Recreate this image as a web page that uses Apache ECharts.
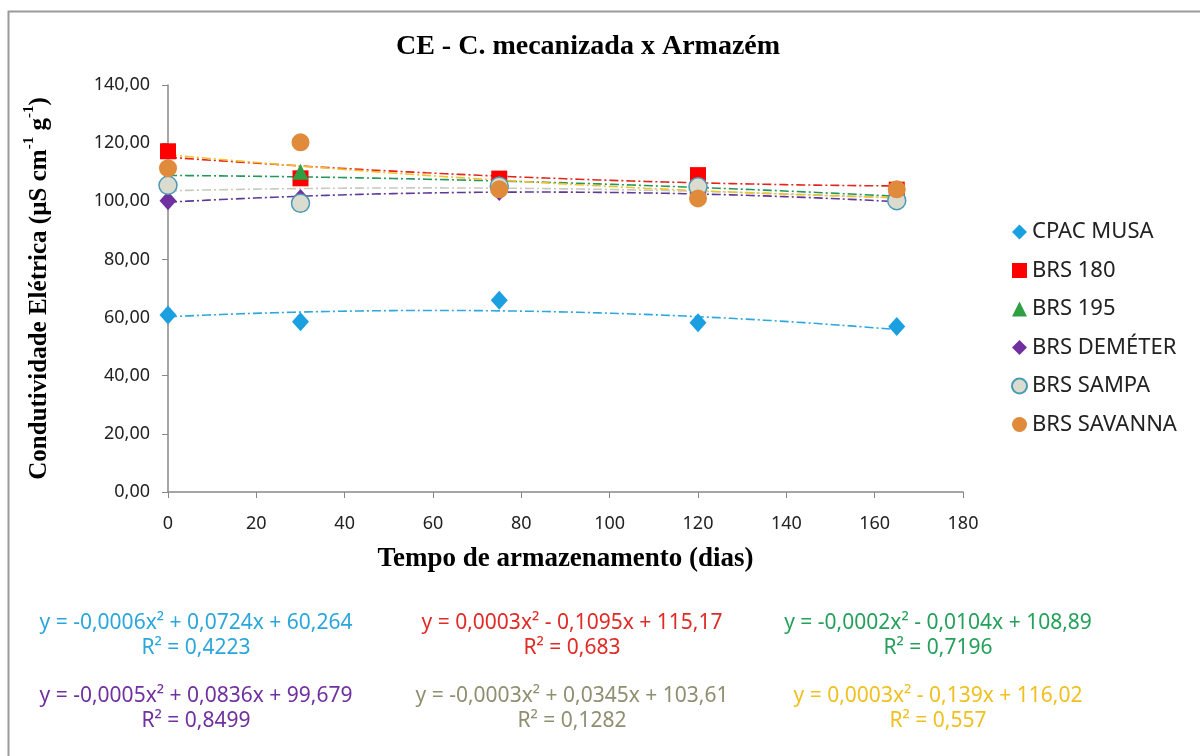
<!DOCTYPE html>
<html>
<head>
<meta charset="utf-8">
<script src="https://cdn.jsdelivr.net/npm/echarts@6/dist/echarts.min.js"></script>
<style>
html,body{margin:0;padding:0;background:#fff;}
#c{width:1200px;height:756px;}
</style>
</head>
<body>
<div id="c"></div>
<script>
// ---- data ----
const days = [0, 30, 75, 120, 165];
const seriesNames = ['CPAC MUSA', 'BRS 180', 'BRS 195', 'BRS DEMÉTER', 'BRS SAMPA', 'BRS SAVANNA'];
const cpacMusa   = [60.9, 58.6, 66.0, 58.2, 56.9];
const brs180     = [117.2, 107.9, 107.8, 109.0, 104.0];
const brs195     = [108.6, 110.2, 106.2, 104.6, 102.0];
const brsDemeter = [100.2, 101.0, 103.4, 103.0, 100.4];
const brsSampa   = [105.5, 99.3, 105.2, 105.0, 100.2];
const brsSavanna = [111.4, 120.3, 104.1, 101.0, 104.1];
// trend coefficients [a, b, c] of y = a x^2 + b x + c (as printed on the chart)
const trendCoefs = [
  [-0.0006, 0.0724, 60.264],
  [0.0003, -0.1095, 115.17],
  [-0.0002, -0.0104, 108.89],
  [-0.0005, 0.0836, 99.679],
  [-0.0003, 0.0345, 103.61],
  [0.0003, -0.139, 116.02]
];
const equationTexts = [
  'y = -0,0006x² + 0,0724x + 60,264', 'y = 0,0003x² - 0,1095x + 115,17', 'y = -0,0002x² - 0,0104x + 108,89',
  'y = -0,0005x² + 0,0836x + 99,679', 'y = -0,0003x² + 0,0345x + 103,61', 'y = 0,0003x² - 0,139x + 116,02'
];
const r2Texts = ['R² = 0,4223', 'R² = 0,683', 'R² = 0,7196', 'R² = 0,8499', 'R² = 0,1282', 'R² = 0,557'];
const xTicks = [0, 20, 40, 60, 80, 100, 120, 140, 160, 180];
const yTicks = [0, 20, 40, 60, 80, 100, 120, 140];

const allData = [cpacMusa, brs180, brs195, brsDemeter, brsSampa, brsSavanna];
const markerColors = ['#1aa0e0', '#ff0000', '#2ea043', '#7030a0', '#d9dccf', '#e08a3c'];
const markerBorders = [null, null, null, null, '#4d9bb3', null];
const symbols = ['diamond', 'rect', 'triangle', 'diamond', 'circle', 'circle'];
const symbolSizes = [[17, 19], 16, 16, [17, 19], 18, 18];
const trendColors = ['#2aa8df', '#e3261c', '#23985a', '#5e3a96', '#c9c9c0', '#f2c12e'];
const textColors = ['#2ba6dc', '#e02a26', '#24a05a', '#7030a0', '#8f8f70', '#f0c020'];

const chart = echarts.init(document.getElementById('c'), null, {renderer: 'canvas'});

function trendData(coef) {
  const out = [];
  for (let x = 0; x <= 165; x += 1.5) {
    out.push([x, coef[0] * x * x + coef[1] * x + coef[2]]);
  }
  return out;
}

const series = [];
trendCoefs.forEach((c, i) => {
  series.push({
    type: 'line', name: 'trend' + i, data: trendData(c), showSymbol: false, smooth: false,
    silent: true, z: 1,
    lineStyle: {color: trendColors[i], width: 1.6, type: [9, 3, 2, 3]}
  });
});
allData.forEach((d, i) => {
  series.push({
    type: 'scatter', name: seriesNames[i], data: days.map((x, k) => [x, d[k]]),
    symbol: symbols[i], symbolSize: symbolSizes[i], z: 3,
    itemStyle: {color: markerColors[i], borderColor: markerBorders[i] || markerColors[i], borderWidth: markerBorders[i] ? 1.5 : 0, opacity: 1}
  });
});

const graphics = [
  {type: 'rect', left: 6, top: 9, shape: {width: 1300, height: 800}, style: {fill: 'none', stroke: '#9a9a9a', lineWidth: 2}, silent: true}
];
const colX = [196, 572, 938];
const rowY = [623, 696];
const eqFont = '21px "Noto Sans"';
for (let i = 0; i < 6; i++) {
  const cx = colX[i % 3], ry = rowY[Math.floor(i / 3)];
  graphics.push({type: 'text', x: cx, y: ry, style: {text: equationTexts[i], fill: textColors[i], font: eqFont, align: 'center', verticalAlign: 'middle', textAlign: 'center', textVerticalAlign: 'middle'}});
  graphics.push({type: 'text', x: cx, y: ry + 25, style: {text: r2Texts[i], fill: textColors[i], font: eqFont, align: 'center', verticalAlign: 'middle', textAlign: 'center', textVerticalAlign: 'middle'}});
}

chart.setOption({
  backgroundColor: '#ffffff',
  animation: false,
  title: {
    text: 'CE - C. mecanizada x Armazém', left: 583, top: 28, textAlign: 'center',
    textStyle: {fontFamily: '"Liberation Serif"', fontWeight: 'bold', fontSize: 28, color: '#000'}
  },
  grid: {left: 168, right: 237, top: 85, bottom: 264},
  legend: {
    orient: 'vertical', left: 1006, top: 216, itemGap: 16.5, itemWidth: 15, itemHeight: 15,
    data: seriesNames.map((n, i) => ({name: n, icon: symbols[i]})),
    textStyle: {fontFamily: '"Noto Sans"', fontSize: 22, color: '#222'}
  },
  xAxis: {
    type: 'value', min: 0, max: 180, interval: 20,
    name: 'Tempo de armazenamento (dias)', nameLocation: 'middle', nameGap: 54,
    nameTextStyle: {fontFamily: '"Liberation Serif"', fontWeight: 'bold', fontSize: 27, color: '#000'},
    axisLine: {lineStyle: {color: '#888', width: 1.5}},
    axisTick: {show: true, inside: false, length: 6, lineStyle: {color: '#888'}},
    axisLabel: {fontFamily: '"Noto Sans"', fontSize: 18, color: '#222', margin: 23,
      formatter: v => xTicks.indexOf(v) >= 0 ? String(v) : ''},
    splitLine: {show: false}
  },
  yAxis: {
    type: 'value', min: 0, max: 140, interval: 20,
    name: '{a|Condutividade Elétrica (µS cm}{s|-1}{a| g}{s|-1}{a|)}', nameLocation: 'middle', nameGap: 116, nameRotate: 90,
    nameTextStyle: {
      rich: {
        a: {fontFamily: '"Liberation Serif"', fontWeight: 'bold', fontSize: 25, color: '#000', lineHeight: 30, verticalAlign: 'bottom'},
        s: {fontFamily: '"Liberation Serif"', fontWeight: 'bold', fontSize: 15, color: '#000', lineHeight: 30, verticalAlign: 'top'}
      }
    },
    axisLine: {show: true, lineStyle: {color: '#888', width: 1.5}},
    axisTick: {show: true, inside: false, length: 6, lineStyle: {color: '#888'}},
    axisLabel: {fontFamily: '"Noto Sans"', fontSize: 18, color: '#222', margin: 18,
      formatter: v => yTicks.indexOf(v) >= 0 ? v.toFixed(2).replace('.', ',') : ''},
    splitLine: {show: false}
  },
  graphic: graphics,
  series: series
});
</script>
</body>
</html>
